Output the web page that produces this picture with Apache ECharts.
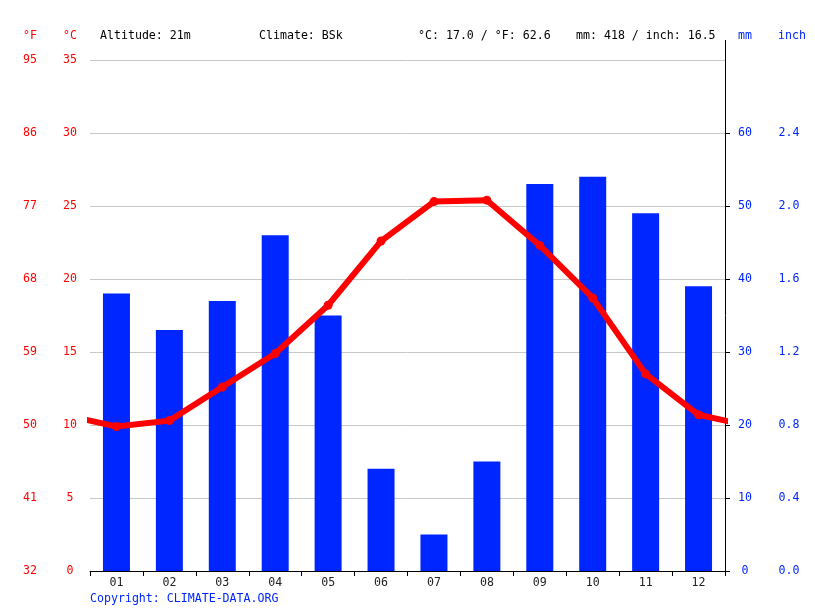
<!DOCTYPE html>
<html>
<head>
<meta charset="utf-8">
<script src="https://cdn.jsdelivr.net/npm/echarts@6/dist/echarts.min.js"></script>
<style>html,body{margin:0;padding:0;background:#fff}#c{width:815px;height:611px}</style>
</head>
<body>
<div id="c"></div>
<script>
const months = ['01','02','03','04','05','06','07','08','09','10','11','12'];
const precipMm = [38, 33, 37, 46, 35, 14, 5, 15, 53, 54, 49, 39];
const tempC = [9.9, 10.3, 12.6, 14.9, 18.2, 22.6, 25.3, 25.4, 22.3, 18.7, 13.5, 10.7];
const headerTexts = ['Altitude: 21m', 'Climate: BSk', '°C: 17.0 / °F: 62.6', 'mm: 418 / inch: 16.5'];

const FONT = '"DejaVu Sans Mono", "Liberation Mono", monospace';
const FS = 11.6;
const RED = '#ff0000';
const BLUE = '#0026ff';

// line wraps around: Dec before Jan and Jan after Dec
const lineData = [[0, tempC[11]]].concat(tempC.map((t, i) => [i + 1, t]), [[13, tempC[0]]]);

const chart = echarts.init(document.getElementById('c'), null, {renderer: 'canvas'});
chart.setOption({
  animation: false,
  backgroundColor: '#fff',
  grid: {left: 90, right: 90, top: 60, bottom: 40},
  xAxis: [
    {
      type: 'category', data: months, boundaryGap: true,
      axisLine: {lineStyle: {color: '#000', width: 1}},
      axisTick: {show: true, length: 5, lineStyle: {color: '#000'}},
      axisLabel: {color: '#222', fontFamily: FONT, fontSize: FS, margin: 6},
      splitLine: {show: false}
    },
    {
      type: 'value', min: 0.5, max: 12.5, show: false
    }
  ],
  yAxis: [
    {
      type: 'value', position: 'left', min: 0, max: 35, interval: 5,
      axisLine: {show: false}, axisTick: {show: false},
      splitLine: {show: true, lineStyle: {color: '#c8c8c8', width: 1}},
      axisLabel: {color: RED, fontFamily: FONT, fontSize: FS, align: 'center', margin: 20}
    },
    {
      type: 'value', position: 'left', min: 0, max: 35, interval: 5,
      axisLine: {show: false}, axisTick: {show: false}, splitLine: {show: false},
      axisLabel: {color: RED, fontFamily: FONT, fontSize: FS, align: 'center', margin: 60,
        formatter: v => String(Math.round(v * 9 / 5 + 32))}
    },
    {
      type: 'value', position: 'right', min: 0, max: 70, interval: 10,
      axisLine: {show: true, lineStyle: {color: '#000', width: 1}},
      axisTick: {show: true, length: 5, lineStyle: {color: '#000'}, customValues: [0,10,20,30,40,50,60]},
      splitLine: {show: false},
      axisLabel: {color: BLUE, fontFamily: FONT, fontSize: FS, align: 'center', margin: 20,
        customValues: [0,10,20,30,40,50,60],
        formatter: v => v >= 65 ? '' : String(v)}
    },
    {
      type: 'value', position: 'right', min: 0, max: 70, interval: 10,
      axisLine: {show: false}, axisTick: {show: false}, splitLine: {show: false},
      axisLabel: {color: BLUE, fontFamily: FONT, fontSize: FS, align: 'center', margin: 64,
        customValues: [0,10,20,30,40,50,60],
        formatter: v => v >= 65 ? '' : (v / 25).toFixed(1)}
    }
  ],
  series: [
    {
      type: 'bar', xAxisIndex: 0, yAxisIndex: 2, data: precipMm,
      barWidth: 27, itemStyle: {color: BLUE}, z: 2
    },
    {
      type: 'line', xAxisIndex: 1, yAxisIndex: 0, data: lineData,
      symbol: 'circle', symbolSize: 9, clip: true,
      lineStyle: {color: RED, width: 6},
      itemStyle: {color: RED},
      z: 5
    }
  ],
  graphic: [
    {type: 'line', shape: {x1: 725.5, y1: 40, x2: 725.5, y2: 60}, style: {stroke: '#000', lineWidth: 1}},
    {type: 'text', x: 30, y: 36, style: {text: '°F', fill: RED, font: FS + 'px ' + FONT, textAlign: 'center', textVerticalAlign: 'middle'}},
    {type: 'text', x: 70, y: 36, style: {text: '°C', fill: RED, font: FS + 'px ' + FONT, textAlign: 'center', textVerticalAlign: 'middle'}},
    {type: 'text', x: 100, y: 36, style: {text: headerTexts[0], fill: '#000', font: FS + 'px ' + FONT, textVerticalAlign: 'middle'}},
    {type: 'text', x: 259, y: 36, style: {text: headerTexts[1], fill: '#000', font: FS + 'px ' + FONT, textVerticalAlign: 'middle'}},
    {type: 'text', x: 418, y: 36, style: {text: headerTexts[2], fill: '#000', font: FS + 'px ' + FONT, textVerticalAlign: 'middle'}},
    {type: 'text', x: 576, y: 36, style: {text: headerTexts[3], fill: '#000', font: FS + 'px ' + FONT, textVerticalAlign: 'middle'}},
    {type: 'text', x: 745, y: 36, style: {text: 'mm', fill: BLUE, font: FS + 'px ' + FONT, textAlign: 'center', textVerticalAlign: 'middle'}},
    {type: 'text', x: 792, y: 36, style: {text: 'inch', fill: BLUE, font: FS + 'px ' + FONT, textAlign: 'center', textVerticalAlign: 'middle'}},
    {type: 'text', x: 90, y: 599, style: {text: 'Copyright: CLIMATE-DATA.ORG', fill: BLUE, font: FS + 'px ' + FONT, textVerticalAlign: 'middle'}}
  ]
});
</script>
</body>
</html>
